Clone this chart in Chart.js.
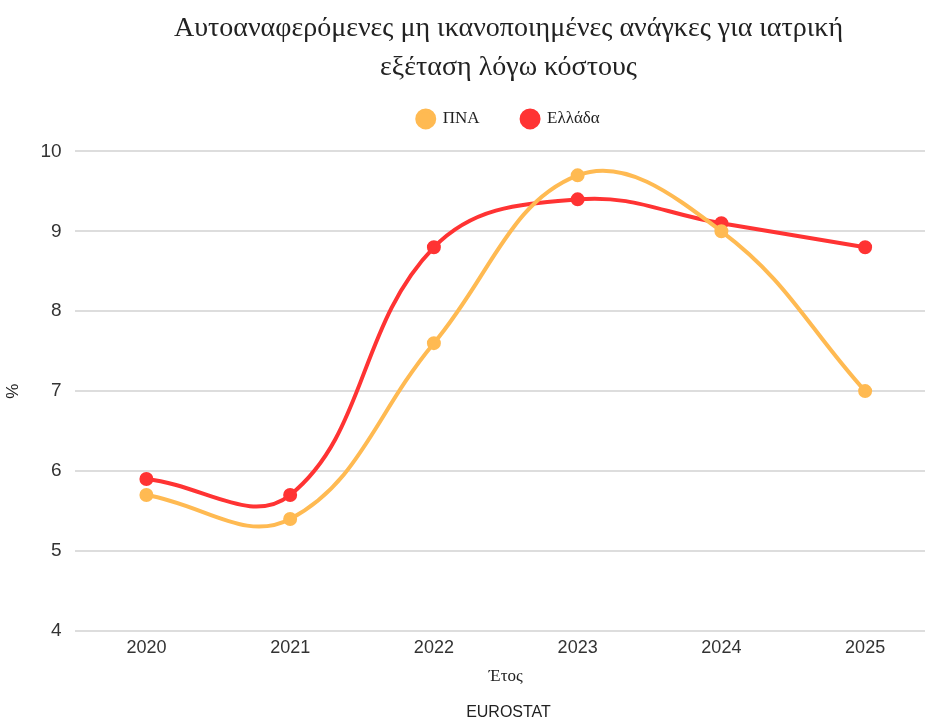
<!DOCTYPE html>
<html>
<head>
<meta charset="utf-8">
<script src="https://cdn.jsdelivr.net/npm/chart.js@4"></script>
<style>
  html, body { margin: 0; padding: 0; background: #fff; overflow: hidden; }
  #wrap { width: 1014px; height: 720px; position: relative; }
</style>
</head>
<body>
<div id="wrap"><canvas id="myChart"></canvas></div>
<script>
const years = ["2020", "2021", "2022", "2023", "2024", "2025"];
const pnaValues = [5.7, 5.4, 7.6, 9.7, 9.0, 7.0];
const greeceValues = [5.9, 5.7, 8.8, 9.4, 9.1, 8.8];

const serif = "'Liberation Serif', 'DejaVu Serif', serif";
const sans = "'Liberation Sans', Arial, sans-serif";

// a bit more room under the legend
const legendMargin = {
  id: "legendMargin",
  beforeInit(chart) {
    const fit = chart.legend.fit;
    chart.legend.fit = function () {
      fit.bind(chart.legend)();
      this.height += 14;
    };
  },
};

const data = {
  labels: years,
  datasets: [
    {
      label: "ΠΝΑ",
      data: pnaValues,
      borderColor: "rgb(255, 186, 82)",
      backgroundColor: "rgb(255, 186, 82)",
      borderWidth: 4,
      pointRadius: 5,
      tension: 0.4,
    },
    {
      label: "Ελλάδα",
      data: greeceValues,
      borderColor: "rgb(255, 51, 51)",
      backgroundColor: "rgb(255, 51, 51)",
      borderWidth: 4,
      pointRadius: 5,
      tension: 0.4,
    },
  ],
};

const config = {
  type: "line",
  data: data,
  plugins: [legendMargin],
  options: {
    responsive: true,
    maintainAspectRatio: false,
    animation: false,
    layout: {
      padding: { left: 3, right: 0, top: 9, bottom: -2 },
    },
    plugins: {
      title: {
        display: true,
        text: ["Αυτοαναφερόμενες μη ικανοποιημένες ανάγκες για ιατρική", "εξέταση λόγω κόστους"],
        color: "#222",
        font: { family: serif, size: 28, weight: "normal", lineHeight: 1.4 },
        padding: { top: 0, bottom: -19 },
      },
      subtitle: {
        display: true,
        position: "bottom",
        text: "EUROSTAT",
        color: "#222",
        font: { family: sans, size: 16 },
        padding: { top: 16, bottom: 0 },
      },
      legend: {
        position: "top",
        labels: {
          usePointStyle: true,
          pointStyle: "circle",
          boxWidth: 18,
          boxHeight: 12,
          padding: 42,
          color: "#222",
          font: { family: serif, size: 17 },
        },
      },
    },
    scales: {
      x: {
        offset: true,
        grid: { display: false },
        border: { display: false },
        ticks: {
          color: "#333",
          padding: -2,
          font: { family: sans, size: 18 },
        },
        title: {
          display: true,
          text: "Έτος",
          color: "#222",
          font: { family: serif, size: 17 },
          padding: { top: 10, bottom: 0 },
        },
      },
      y: {
        min: 4,
        max: 10,
        grid: { color: "#dddddd", lineWidth: 2, drawTicks: false },
        border: { display: false },
        ticks: {
          stepSize: 1,
          color: "#333",
          padding: 13,
          font: { family: sans, size: 19 },
        },
        title: {
          display: true,
          text: "%",
          color: "#222",
          font: { family: sans, size: 17 },
          padding: { top: 0, bottom: 4 },
        },
      },
      // empty space on the right of the plot
      yRight: {
        position: "right",
        display: true,
        grid: { display: false },
        border: { display: false },
        ticks: { display: false },
        afterFit(scale) {
          scale.width = 77;
        },
      },
    },
  },
};

const myChart = new Chart(document.getElementById("myChart"), config);
</script>
</body>
</html>
